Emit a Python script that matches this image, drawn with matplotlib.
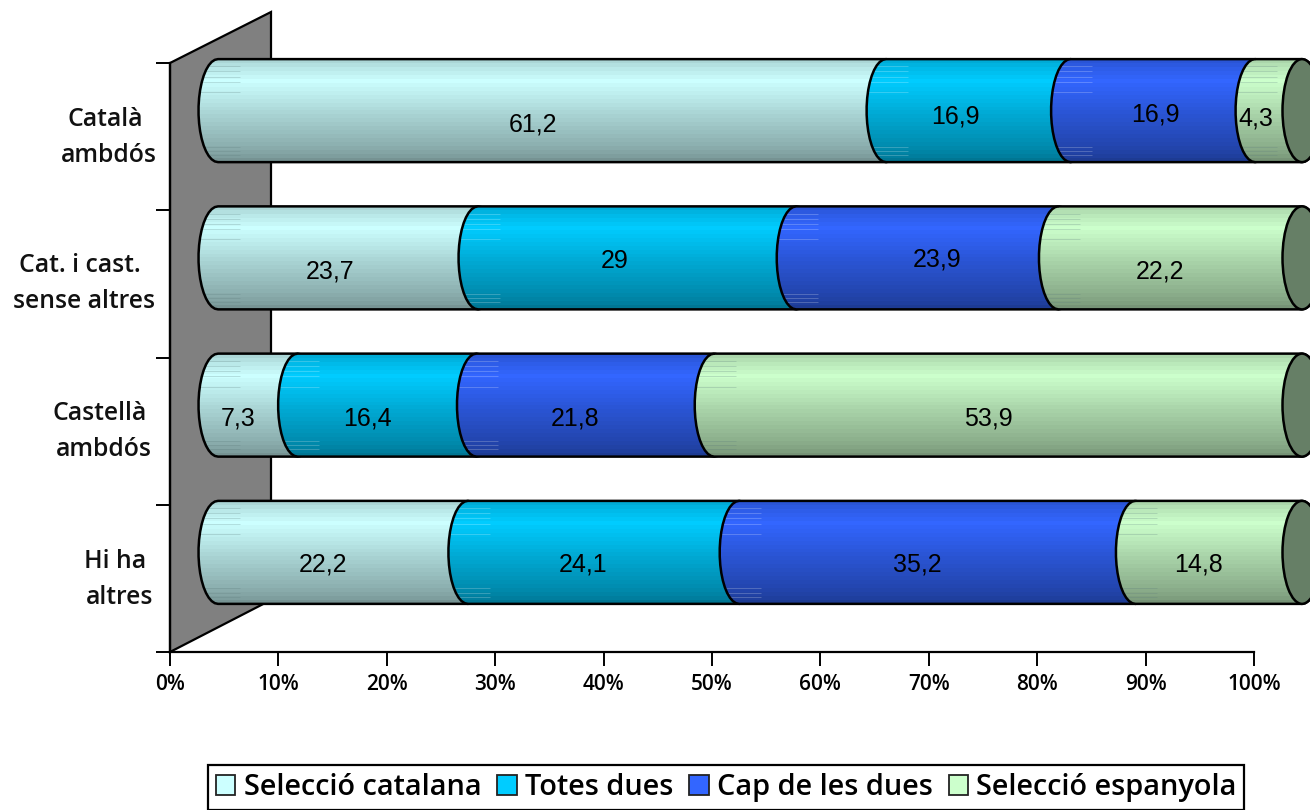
import numpy as np
import matplotlib
matplotlib.use("Agg")
import matplotlib.pyplot as plt
from matplotlib.patches import Polygon, Patch, Ellipse
from matplotlib.colors import to_rgb

# ---- data (bottom row first) ----
categories = ["Hi ha\naltres", "Castellà\nambdós", "Cat. i cast.\nsense altres", "Català\nambdós"]
seleccio_catalana = [22.2, 7.3, 23.7, 61.2]
totes_dues = [24.1, 16.4, 29, 16.9]
cap_de_les_dues = [35.2, 21.8, 23.9, 16.9]
seleccio_espanyola = [14.8, 53.9, 22.2, 4.3]
series_names = ["Selecció catalana", "Totes dues", "Cap de les dues", "Selecció espanyola"]
series_values = [seleccio_catalana, totes_dues, cap_de_les_dues, seleccio_espanyola]
x_ticks = list(range(0, 101, 10))

# ---- styling ----
colors = ["#CCFFFF", "#00CCFF", "#3366FF", "#CCFFCC"]
end_cap = "#667F66"
W, H = 1310, 810
X0, X100, Y_TOP, Y_BOT = 170, 1254, 63, 652
SX = (X100 - X0) / 100
SY = (Y_BOT - Y_TOP) / 4
DX, DY = 48 / SX, 26 / SY          # 3-D depth shift
BAR_H = 103 / SY
RX = 19.5 / SX                     # end ellipse half width
UI = ["Open Sans", "Noto Sans", "DejaVu Sans"]
# pixel nudges of the data labels, [row][series]
nudge_x = [[0, 0, 0, 0], [0, 0, 0, 0], [2, -2, 30, 0], [1, -3, 13, -3]]
nudge_y = [[10, 10, 10, 10], [11, 11, 11, 11], [11, 1, -1, 11], [11, 3, 1, 5]]
line_x = [(115, 120), (100, 104), (80, 84), (105, 109)]
line_y = [(561, 598), (413, 450), (266, 302), (119, 155)]

fig = plt.figure(figsize=(W / 100, H / 100), dpi=100, facecolor="white")
ax = fig.add_axes([X0 / W, 1 - Y_BOT / H, (X100 - X0) / W, (Y_BOT - Y_TOP) / H])
ax.set_xlim(0, 100)
ax.set_ylim(0, 4)

# back wall
ax.add_patch(Polygon([(0, 0), (DX * 101 / 48, 52 / SY), (DX * 101 / 48, 4 + 51 / SY), (0, 4)],
                     closed=True, fc="#808080", ec="black", lw=1.6, clip_on=False, zorder=1))

stops_f = [0, .06, .2, .5, .85, .95, 1]
stops_v = [.84, .9, 1, .85, .69, .63, .58]
grad = np.linspace(0, 1, 26)
shade = np.interp(grad, stops_f, stops_v)


def cyl_path(x0, x1, yc):
    t = np.linspace(np.pi / 2, 3 * np.pi / 2, 20)
    left = np.c_[x0 + RX * np.cos(t), yc + BAR_H / 2 * np.sin(t)]
    t2 = np.linspace(-np.pi / 2, np.pi / 2, 20)
    right = np.c_[x1 + RX * np.cos(t2), yc + BAR_H / 2 * np.sin(t2)]
    return np.r_[left, right]


streaks = [.07, .12, .17, .22, .32, .85, .89, .93]
for row in range(len(categories)):
    vals = [s[row] for s in series_values]
    total = sum(vals)
    yc = row + .5 + DY
    cum = 0
    for k, v in enumerate(vals):
        a = DX + cum / total * 100
        b = DX + (cum + v) / total * 100
        cum += v
        z = 3 + k
        pts = cyl_path(a, b, yc)
        rgb = np.array(to_rgb(colors[k]))
        img = (shade[:, None] * rgb)[:, None, :]
        ax.add_patch(Polygon(pts, closed=True, fc="none", ec="black", lw=1.8,
                             clip_on=False, zorder=z + .5, joinstyle="round"))
        im = ax.imshow(img, extent=(a - RX, b + RX, yc - BAR_H / 2, yc + BAR_H / 2),
                       aspect="auto", interpolation="nearest", origin="upper", zorder=z)
        im.set_clip_path(Polygon(pts, closed=True, transform=ax.transData))
        im.set_clip_box(fig.bbox)
        for f in streaks:
            yy = yc + BAR_H / 2 - f * BAR_H
            ln, = ax.plot([a - RX, a + 2.0], [yy, yy], lw=.7, zorder=z + .2,
                          color="white" if k in (1, 2) else "#5f7f7f",
                          alpha=.22 if k in (1, 2) else .25, solid_capstyle="butt")
            ln.set_clip_path(Polygon(pts, closed=True, transform=ax.transData))
            ln.set_clip_box(fig.bbox)
        xc = (a + b) / 2 + (-20 + nudge_x[row][k]) / SX
        ytxt = yc - nudge_y[row][k] / SY
        ax.text(xc, ytxt, str(v).replace(".", ","), ha="center", va="center_baseline",
                fontsize=18, family="Liberation Sans", color="black", zorder=20, clip_on=False)
    ax.add_patch(Ellipse((DX + 100, yc), 2 * RX, BAR_H, fc=end_cap, ec="black", lw=1.8,
                         clip_on=False, zorder=10))

ax.set_xlim(0, 100)
ax.set_ylim(0, 4)

# axes
for s in ("top", "right"):
    ax.spines[s].set_visible(False)
ax.spines["left"].set_linewidth(1.6)
ax.spines["bottom"].set_linewidth(1.6)
ax.spines["left"].set_zorder(2)
ax.patch.set_visible(False)
ax.set_xticks(x_ticks)
ax.set_xticklabels([f"{t}%" for t in x_ticks], family=UI, fontsize=15, fontweight="semibold")
ax.set_yticks(range(5))
ax.set_yticklabels([])
ax.tick_params(axis="both", length=10, width=1.4, direction="out", pad=6)

# category labels, one text per wrapped line
to_ax_x = lambda px: (px - X0) / SX
to_ax_y = lambda py: (Y_BOT - py) / SY
for cat, xs, ys in zip(categories, line_x, line_y):
    for line, lx, ly in zip(cat.split("\n"), xs, ys):
        ax.text(to_ax_x(lx), to_ax_y(ly), line, ha="center", va="center", family=UI,
                fontsize=17.8, fontweight="semibold", color="#111111", clip_on=False)

handles = [Patch(fc=c, ec="#222222", lw=1.3) for c in colors]
leg = fig.legend(handles, series_names, ncol=4, loc="lower left",
                 bbox_to_anchor=(208 / W, 1 - 810 / H), borderaxespad=0, frameon=True,
                 fancybox=False, edgecolor="black", framealpha=1,
                 prop={"family": UI, "size": 20.8, "weight": "semibold"},
                 handlelength=.68, handleheight=.68, handletextpad=.28, columnspacing=.55,
                 borderpad=.27)
leg.get_frame().set_linewidth(1.6)

fig.savefig("out.png", dpi=100, facecolor="white")
